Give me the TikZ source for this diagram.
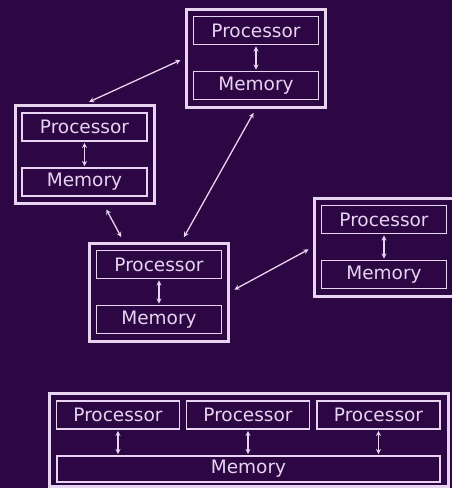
\documentclass[tikz,border=0pt]{standalone}
\usepackage{fontspec}
\setmainfont{DejaVu Sans}
\usepackage{tikz}
\usetikzlibrary{arrows,positioning,calc}

\definecolor{aubergine}{RGB}{45,6,68}
\definecolor{chalk}{RGB}{230,212,240}

\tikzset{
	unitbox/.style={draw=chalk, line width=3pt, minimum width=139pt, minimum height=98pt, inner sep=0pt},
	cellbox/.style={draw=chalk, line width=1.7pt, minimum width=125pt, minimum height=28pt, inner sep=0pt,
		text=chalk, font=\fontsize{18.5}{20}\selectfont},
	link/.style={<->, >=stealth, draw=chalk, line width=1.3pt, shorten <=5pt, shorten >=5pt},
	bus/.style={<->, >=stealth, draw=chalk, line width=1.3pt, shorten <=1pt, shorten >=1pt}
}

\begin{document}
\begin{tikzpicture}[x=1pt,y=-1pt]
		\fill[aubergine] (0,0) rectangle (452,488);
		\useasboundingbox (0,0) rectangle (452,488);

		% four machines, each with its own memory
		\foreach \n/\x/\y in {A/256/58, B/84.5/154.5, C/159/292, D/384/247} {
			\node[unitbox] (\n) at (\x,\y) {};
			\node[cellbox] (\n p) at (\x,\y-27.5) {Processor};
			\node[cellbox] (\n m) at (\x,\y+27.5) {Memory};
			\draw[bus] (\n p) -- (\n m);
		}

		\draw[link] (B.north) -- (A.west);
		\draw[link] (A.south) -- (C.66);
		\draw[link] (B.-69) -- (C.125);
		\draw[link] (C.east) -- (D.west);

		% shared memory
		\node[unitbox, minimum width=399pt, minimum height=93pt] (E) at (248.5,439.5) {};
		\node[cellbox, minimum width=383pt, minimum height=26pt] (E m) at (248.5,469) {Memory};
		\foreach \i/\x in {1/118, 2/248, 3/378.5} {
			\node[cellbox, minimum width=123pt] (E p\i) at (\x,415) {Processor};
			\draw[bus] (E p\i) -- (E p\i |- E m.north);
		}
	\end{tikzpicture}
\end{document}
